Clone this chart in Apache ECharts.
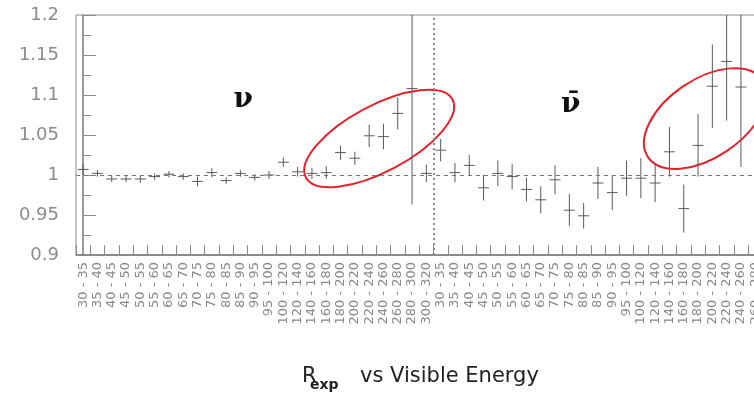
<!DOCTYPE html>
<html>
<head>
<meta charset="utf-8">
<script src="https://cdn.jsdelivr.net/npm/echarts@6/dist/echarts.min.js"></script>
<style>
  html, body { margin: 0; padding: 0; background: #fff; }
  #chart { width: 754px; height: 394px; }
</style>
</head>
<body>
<div id="chart"></div>
<script>
// Visible-energy bins (same binning for neutrino and antineutrino halves)
const binLabels = [
  '30-35', '35-40', '40-45', '45-50', '50-55', '55-60', '60-65', '65-70',
  '70-75', '75-80', '80-85', '85-90', '90-95', '95-100', '100-120', '120-140',
  '140-160', '160-180', '180-200', '200-220', '220-240', '240-260', '260-280',
  '280-300', '300-320'
];

// R_exp per bin, neutrino half
const nuRatio = [
  1.007, 1.002, 0.995, 0.995, 0.995, 0.998, 1.001, 0.998, 0.992, 1.003,
  0.993, 1.002, 0.997, 1.000, 1.016, 1.004, 1.002, 1.003, 1.028, 1.021,
  1.049, 1.048, 1.077, 1.108, 1.002
];
const nuError = [
  0.007, 0.004, 0.004, 0.004, 0.005, 0.004, 0.004, 0.004, 0.006, 0.006,
  0.004, 0.004, 0.004, 0.005, 0.006, 0.006, 0.007, 0.008, 0.009, 0.008,
  0.014, 0.016, 0.020, 0.145, 0.011
];

// R_exp per bin, antineutrino half (bins past the right edge are empty)
const nubarRatio = [
  1.031, 1.003, 1.012, 0.984, 1.002, 0.998, 0.982, 0.969, 0.994, 0.956,
  0.949, 0.990, 0.978, 0.996, 0.996, 0.990, 1.029, 0.958, 1.037, 1.111,
  1.142, 1.110, null, null, null
];
const nubarError = [
  0.014, 0.012, 0.013, 0.016, 0.016, 0.016, 0.015, 0.017, 0.018, 0.020,
  0.016, 0.020, 0.022, 0.022, 0.025, 0.024, 0.031, 0.030, 0.039, 0.052,
  0.074, 0.100, null, null, null
];

const yTicks = { min: 0.9, max: 1.2, step: 0.05 };

const categories = binLabels.concat(binLabels);
const nBins = binLabels.length;

function toPoints(ratio, err, offset) {
  const out = [];
  ratio.forEach((v, i) => {
    if (v !== null) out.push([i + offset, v, err[i]]);
  });
  return out;
}

function renderErrorBar(params, api) {
  const i = api.value(0), v = api.value(1), e = api.value(2);
  const c = api.coord([i, v]);
  const hi = api.coord([i, v + e]);
  const lo = api.coord([i, v - e]);
  const half = api.size([1, 0])[0] * 0.38;
  const st = { stroke: '#5a5a5a', lineWidth: 1 };
  return {
    type: 'group',
    children: [
      { type: 'line', shape: { x1: c[0], y1: hi[1], x2: c[0], y2: lo[1] }, style: st },
      { type: 'line', shape: { x1: c[0] - half, y1: c[1], x2: c[0] + half, y2: c[1] }, style: st }
    ]
  };
}

const chart = echarts.init(document.getElementById('chart'), null, { renderer: 'canvas' });

chart.setOption({
  animation: false,
  backgroundColor: '#fff',
  grid: {
    left: 76, top: 15, width: 715, height: 240,
    outerBoundsMode: 'none', containLabel: false,
    show: true, borderColor: '#8a8a8a', borderWidth: 1, backgroundColor: 'transparent'
  },
  xAxis: [
    {
      type: 'category',
      data: categories,
      boundaryGap: true,
      axisLine: { lineStyle: { color: '#7a7a7a', width: 1.5 } },
      axisTick: { show: true, inside: true, length: 10, interval: 0, lineStyle: { color: '#8a8a8a' } },
      axisLabel: {
        interval: 0, rotate: 90, margin: 7,
        fontFamily: 'DejaVu Sans', fontSize: 13, color: '#8a8a8a',
        formatter: v => v.replace('-', ' - ')
      },
      splitLine: { show: false }
    },
    {
      // bin-index axis used to place reference lines and annotations
      type: 'value', min: -0.5, max: 2 * nBins - 0.5, show: false
    }
  ],
  yAxis: {
    type: 'value',
    min: yTicks.min, max: yTicks.max, interval: yTicks.step,
    axisLine: { show: true, lineStyle: { color: '#7a7a7a', width: 1.5 } },
    axisTick: { show: true, inside: true, length: 13, lineStyle: { color: '#8a8a8a' } },
    minorTick: { show: true, splitNumber: 2, length: 8, lineStyle: { color: '#8a8a8a' } },
    axisLabel: { fontFamily: 'DejaVu Sans', fontSize: 18, color: '#8c8c8c', margin: 17 },
    splitLine: { show: false }
  },
  series: [
    {
      name: 'nu',
      type: 'custom',
      renderItem: renderErrorBar,
      clip: true,
      encode: { x: 0, y: 1 },
      data: toPoints(nuRatio, nuError, 0),
      markLine: {
        silent: true, symbol: 'none', label: { show: false },
        lineStyle: { color: '#777', width: 1, type: [4, 4] },
        data: [{ yAxis: 1 }]
      }
    },
    {
      name: 'nubar',
      type: 'custom',
      renderItem: renderErrorBar,
      clip: true,
      encode: { x: 0, y: 1 },
      data: toPoints(nubarRatio, nubarError, nBins)
    },
    {
      name: 'divider',
      type: 'custom',
      xAxisIndex: 1,
      renderItem: () => null,
      data: [],
      markLine: {
        silent: true, symbol: 'none', label: { show: false },
        lineStyle: { color: '#8a8a8a', width: 2, type: [2, 3] },
        data: [{ xAxis: nBins - 0.5 }]
      }
    }
  ]
});

// Annotations anchored to bin/ratio coordinates
const px = (bin, r) => chart.convertToPixel({ xAxisIndex: 1, yAxisIndex: 0 }, [bin, r]);
const nuMark = px(11.2, 1.094);
const nubarMark = px(34.1, 1.088);
const nuRing = px(20.7, 1.0456);
const nubarRing = px(43.5, 1.0706);
const deg = Math.PI / 180;

chart.setOption({
  graphic: [
    {
      type: 'text', x: nuMark[0], y: nuMark[1],
      style: { text: 'ν', font: 'bold 28px "DejaVu Serif"', fill: '#111', align: 'center', verticalAlign: 'middle' }
    },
    {
      type: 'text', x: nubarMark[0], y: nubarMark[1],
      style: { text: 'ν̄', font: 'bold 28px "DejaVu Serif"', fill: '#111', align: 'center', verticalAlign: 'middle' }
    },
    {
      type: 'ellipse', x: nuRing[0], y: nuRing[1], rotation: 28 * deg,
      shape: { cx: 0, cy: 0, rx: 83, ry: 33 },
      style: { fill: 'none', stroke: '#e3222b', lineWidth: 2 }
    },
    {
      type: 'ellipse', x: nubarRing[0], y: nubarRing[1], rotation: 34 * deg,
      shape: { cx: 0, cy: 0, rx: 69, ry: 39 },
      style: { fill: 'none', stroke: '#e3222b', lineWidth: 2 }
    },
    {
      type: 'text', x: 302, y: 377,
      style: { text: 'R', font: '21px "DejaVu Sans"', fill: '#222', align: 'left', verticalAlign: 'middle' }
    },
    {
      type: 'text', x: 310, y: 385,
      style: { text: 'exp', font: 'bold 14px "DejaVu Sans"', fill: '#222', align: 'left', verticalAlign: 'middle' }
    },
    {
      type: 'text', x: 360, y: 377,
      style: { text: 'vs Visible Energy', font: '21px "DejaVu Sans"', fill: '#222', align: 'left', verticalAlign: 'middle' }
    }
  ]
});
</script>
</body>
</html>
